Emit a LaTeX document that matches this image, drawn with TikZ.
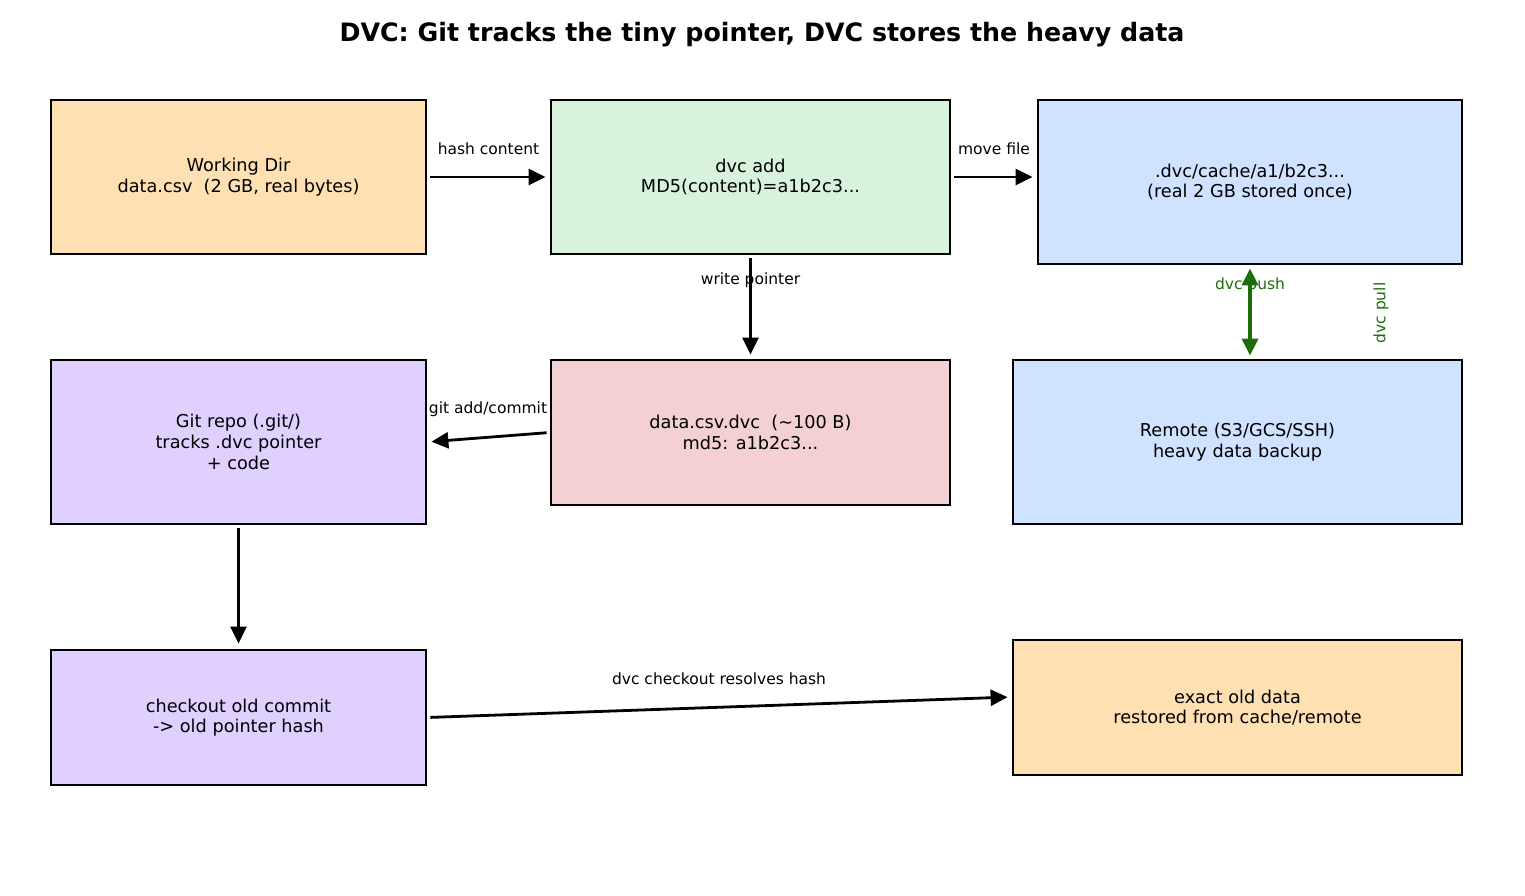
\documentclass[tikz,border=0pt]{standalone}
\usepackage{fontspec}
\setmainfont{DejaVu Sans}
\usetikzlibrary{arrows.meta,calc}
\definecolor{cOrange}{HTML}{FFE0B2}
\definecolor{cGreen}{HTML}{D9F2DB}
\definecolor{cBlue}{HTML}{CFE2FF}
\definecolor{cLav}{HTML}{DFD0FF}
\definecolor{cPink}{HTML}{F3D0D2}
\definecolor{cDkGreen}{HTML}{1B6E0A}
\tikzset{
  box/.style={draw=black, line width=2.8pt, rectangle, align=center, inner sep=0pt,
    font=\fontsize{17.7}{20.6}\selectfont},
  conn/.style={line width=2.8pt, -{Triangle[length=17pt,width=16pt]}, shorten <=3pt, shorten >=4pt},
  lbl/.style={font=\fontsize{15.5}{18}\selectfont, inner sep=0pt},
  greenlbl/.style={lbl, text=cDkGreen},
}
\begin{document}
\begin{tikzpicture}[x=1pt,y=1pt]
\useasboundingbox (0,0) rectangle (1525,895);
\node[font=\fontsize{25.3}{30}\selectfont\bfseries] (title) at (762,860) {DVC: Git tracks the tiny pointer, DVC stores the heavy data};

\node[box, fill=cOrange, minimum width=375, minimum height=154] (A) at (238.5,718) {Working Dir\\data.csv\ \ (2 GB, real bytes)};
\node[box, fill=cGreen, minimum width=399, minimum height=154] (B) at (750.5,718) {dvc add\\MD5(content)=a1b2c3...};
\node[box, fill=cBlue, minimum width=424, minimum height=164] (C) at (1250,713) {.dvc/cache/a1/b2c3...\\(real 2 GB stored once)};
\node[box, fill=cLav, minimum width=375, minimum height=164] (D) at (238.5,453) {Git repo (.git/)\\tracks .dvc pointer\\+ code};
\node[box, fill=cPink, minimum width=399, minimum height=145] (E) at (750.5,462.5) {data.csv.dvc\ \ (\textasciitilde100 B)\\md5: a1b2c3...};
\node[box, fill=cBlue, minimum width=449, minimum height=164] (F) at (1237.5,453) {Remote (S3/GCS/SSH)\\heavy data backup};
\node[box, fill=cLav, minimum width=375, minimum height=135] (G) at (238.5,177.5) {checkout old commit\\-> old pointer hash};
\node[box, fill=cOrange, minimum width=449, minimum height=135] (H) at (1237.5,187.5) {exact old data\\restored from cache/remote};

% A -> B
\draw[conn] (A.east) -- (B.west);
\node[lbl] (lAB) at ($(A.east)!0.5!(B.west)+(0,28)$) {hash content};
% B -> C
\draw[conn] (B.east) -- (B.east -| C.west);
\node[lbl] (lBC) at ($(B.east)!0.5!(B.east -| C.west)+(0,28)$) {move file};
% B -> E
\node[lbl] (lBE) at ($(B.south)+(0,-25)$) {write pointer};
\draw[conn] (B.south) -- (E.north);
% E -> D
\draw[conn] (E.west) -- (D.east);
\node[lbl] (lED) at (488,486) {git add/commit};
% C <-> F
\node[greenlbl] (lpush) at ($(C.south)+(0,-20)$) {dvc push};
\draw[line width=3.4pt, draw=cDkGreen, {Triangle[length=17pt,width=16pt]}-{Triangle[length=17pt,width=16pt]}, shorten <=3pt, shorten >=3pt] (C.south) -- (C.south |- F.north);
\node[greenlbl, rotate=90] (lpull) at (1381,582) {dvc pull};
% D -> G
\draw[conn, shorten >=5pt] (D.south) -- (G.north);
% G -> H
\coordinate (Hin) at ($(H.west)+(0,10.5)$);
\draw[conn] (G.east) -- (Hin);
\node[lbl] (lGH) at (719,216) {dvc checkout resolves hash};
\end{tikzpicture}
\end{document}
